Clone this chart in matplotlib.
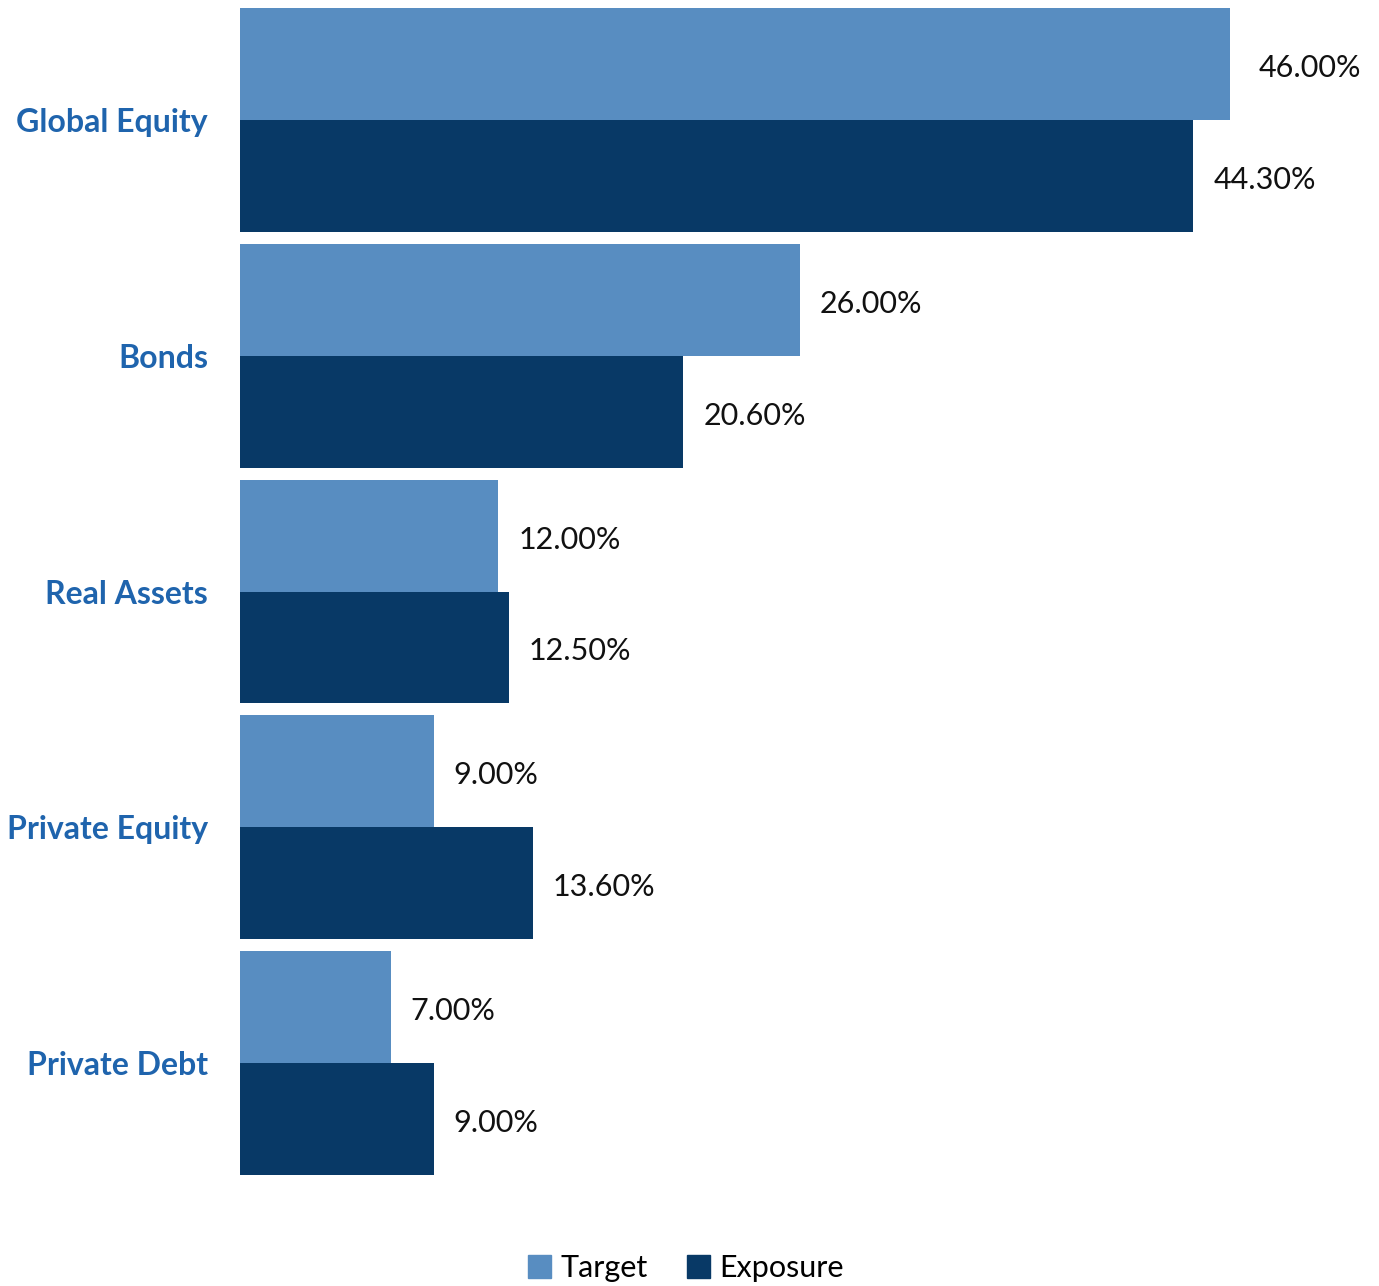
import matplotlib
matplotlib.use("Agg")
import matplotlib.pyplot as plt
from matplotlib.patches import Patch

plt.rcParams['font.family'] = ['Lato', 'DejaVu Sans']

# data
categories = ["Global Equity", "Bonds", "Real Assets", "Private Equity", "Private Debt"]
target = [46.00, 26.00, 12.00, 9.00, 7.00]
exposure = [44.30, 20.60, 12.50, 13.60, 9.00]

c_target = "#588DC1"
c_exposure = "#083966"
c_label = "#1F64AD"

W, H = 1379, 1286
fig = plt.figure(figsize=(W / 100, H / 100), dpi=100)
ax = fig.add_axes([240 / W, (H - 1175) / H, 1139 / W, 1167 / H])

bh = 0.475
ys = list(range(len(categories)))
ax.barh([y - bh / 2 for y in ys], target, height=bh, color=c_target, label="Target")
ax.barh([y + bh / 2 for y in ys], exposure, height=bh, color=c_exposure, label="Exposure")

ax.set_ylim(len(categories) - 1 + bh, -bh)
ax.set_xlim(0, 1139 / 21.52)

for y, t, e in zip(ys, target, exposure):
    # the top label sits a little further out in the original
    dx = 29 if y == 0 else 20
    ax.annotate(f"{t:.2f}%", (t, y - bh / 2), xytext=(dx, -4), textcoords="offset pixels",
                va="center", ha="left", fontsize=22, color="#111111")
    ax.annotate(f"{e:.2f}%", (e, y + bh / 2), xytext=(20, -4), textcoords="offset pixels",
                va="center", ha="left", fontsize=22, color="#111111")

ax.set_yticks(ys)
ax.set_yticklabels(categories, fontsize=23, fontweight="bold", color=c_label)
ax.tick_params(axis="y", length=0, pad=23)
ax.set_xticks([])
for s in ax.spines.values():
    s.set_visible(False)

handles = [Patch(color=c_target, label="Target"), Patch(color=c_exposure, label="Exposure")]
fig.legend(handles=handles, loc="center", bbox_to_anchor=(686 / W, 1 - 1268 / H), ncol=2,
           frameon=False, fontsize=22, handlelength=0.75, handleheight=0.75,
           handletextpad=0.3, columnspacing=1.3)

fig.savefig("out.png", dpi=100)
